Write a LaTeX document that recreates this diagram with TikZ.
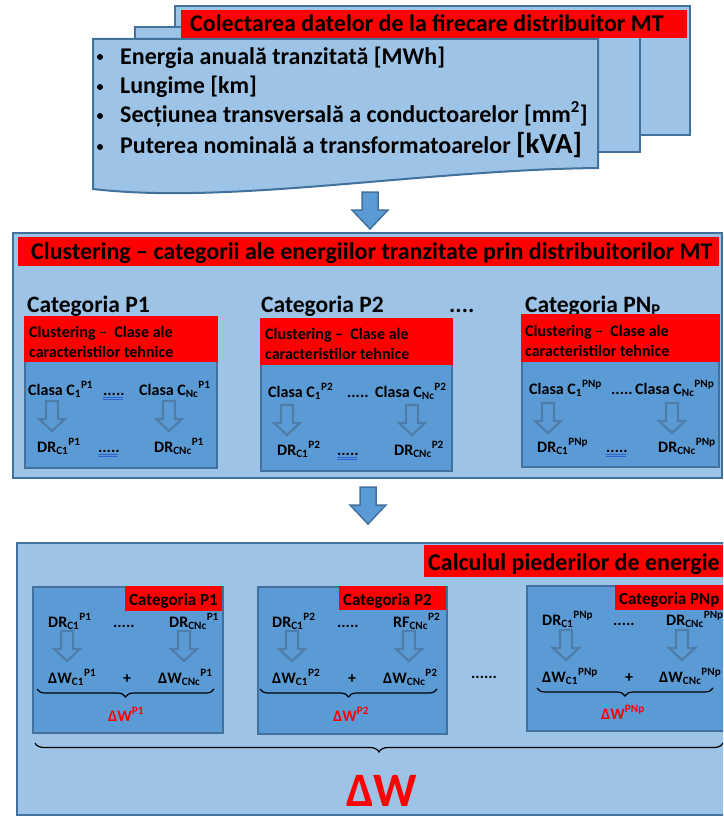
\documentclass[tikz,border=0pt]{standalone}
\usepackage{fontspec}
\setmainfont{Carlito}
\usetikzlibrary{decorations.pathreplacing}
\definecolor{lb}{HTML}{9DC3E6}
\definecolor{mb}{HTML}{5B9BD5}
\definecolor{db}{HTML}{41719C}
\definecolor{ha}{HTML}{4E7DAA}
\definecolor{rd}{HTML}{FF0000}
\definecolor{ul}{HTML}{2F5FD0}
\newcommand\fs[1]{\fontsize{#1}{#1}\selectfont}
\newcommand\ix[2]{\textsubscript{#1}\textsuperscript{#2}}
\begin{document}
\begin{tikzpicture}[x=1pt,y=-1pt,
  panel/.style={fill=lb,draw=db,line width=2pt},
  inbox/.style={fill=mb,draw=db,line width=2pt},
  redbar/.style={fill=rd},
  txt/.style={inner sep=0pt,anchor=base west,font=\bfseries\fs{16}},
  bigtxt/.style={txt,font=\bfseries\fs{24}},
  cattxt/.style={txt,font=\bfseries\fs{23.5}},
  redtxt/.style={txt,font=\bfseries\fs{16}},
  labtxt/.style={txt,font=\bfseries\fs{17}},
  sumtxt/.style={txt,font=\bfseries\fs{16},text=rd},
  dot/.style={circle,fill=black,inner sep=0pt,minimum size=6pt},
  dul/.style={draw=ul,line width=0.7pt},
  brc/.style={decorate,decoration={brace,amplitude=8pt,mirror},line width=1.2pt},
  harrow/.pic={\draw[ha,line width=2.2pt,line join=miter]
     (-6,0) -- (6,0) -- (6,18) -- (13,18) -- (0,30) -- (-13,18) -- (-6,18) -- cycle;},
  barrow/.pic={\draw[fill=mb,draw=db,line width=1.5pt,line join=miter]
     (-8,0) -- (8,0) -- (8,18) -- (18,18) -- (0,37) -- (-18,18) -- (-8,18) -- cycle;}
]
\useasboundingbox (0,0) rectangle (723,816);
\clip (0,0) rectangle (723,816);
\fill[white] (0,0) rectangle (723,816);

% ---------- top: stacked documents ----------
\draw[panel] (175,6) rectangle (690,135);
\draw[panel] (135,27) rectangle (640,152);
\fill[redbar] (181,10) rectangle (687,38);
\draw[panel] (93,39) -- (598,39) -- (598,168)
   .. controls (420,170) and (230,205) .. (93,189) -- cycle;
\node[bigtxt] (colt) at (190,32) {Colectarea datelor de la firecare distribuitor MT};
\node[dot] (d1) at (100,57) {};
\node[dot] (d2) at (100,87) {};
\node[dot] (d3) at (100,116) {};
\node[dot] (d4) at (100,147) {};
\node[bigtxt] (b1) at (120,64) {Energia anuală tranzitată [MWh]};
\node[bigtxt] (b2) at (120,93) {Lungime [km]};
\node[bigtxt] (b3) at (120,122) {Secțiunea transversală a conductoarelor [mm\textsuperscript{2}]};
\node[bigtxt] (b4) at (120,153) {Puterea nominală a transformatoarelor {\fs{29}[kVA]}};

\pic at (370,192) {barrow};

% ---------- section 2 ----------
\draw[panel] (13,233) rectangle (722,478);
\fill[redbar] (18,237) rectangle (719,266);
\node[bigtxt] (t2) at (31,259) {Clustering – categorii ale energiilor tranzitate prin distribuitorilor MT};
\node[cattxt] (c1) at (27,312) {Categoria P1};
\node[cattxt] (c2) at (261,312) {Categoria P2};
\node[cattxt] (cd) at (449,312) {....};
\node[cattxt] (c3) at (525,312) {Categoria PN\textsubscript{P}};

% box 1
\draw[inbox] (25,317) rectangle (217,468);
\fill[redbar] (24,316) rectangle (218,362);
\node[redtxt] (r1a) at (29,337) {Clustering –\ \ Clase ale};
\node[redtxt] (r1b) at (29,357) {caracteristilor tehnice};
\node[txt] (k1a) at (28,395) {Clasa C\ix{1}{P1}};
\node[txt] (k1d) at (103,395) {.....};
\node[txt] (k1b) at (139,395) {Clasa C\ix{Nc}{P1}};
\draw[dul] (k1d.south west) ++(0,2) -- ++(20,0);
\draw[dul] (k1d.south west) ++(0,4) -- ++(20,0);
\pic at (52,401) {harrow};
\pic at (169,401) {harrow};
\node[txt] (q1a) at (37,452) {DR\ix{C1}{P1}};
\node[txt] (q1d) at (98,452) {.....};
\node[txt] (q1b) at (154,452) {DR\ix{CNc}{P1}};
\draw[dul] (q1d.south west) ++(0,2) -- ++(20,0);
\draw[dul] (q1d.south west) ++(0,4) -- ++(20,0);

% box 2
\draw[inbox] (261,319) rectangle (452,471);
\fill[redbar] (260,318) rectangle (453,365);
\node[redtxt] (r2a) at (265,339) {Clustering –\ \ Clase ale};
\node[redtxt] (r2b) at (265,359) {caracteristilor tehnice};
\node[txt] (k2a) at (268,397) {Clasa C\ix{1}{P2}};
\node[txt] (k2d) at (347,397) {.....};
\node[txt] (k2b) at (375,397) {Clasa C\ix{Nc}{P2}};
\pic at (287,405) {harrow};
\pic at (412,405) {harrow};
\node[txt] (q2a) at (277,455) {DR\ix{C1}{P2}};
\node[txt] (q2d) at (337,455) {.....};
\node[txt] (q2b) at (394,455) {DR\ix{CNc}{P2}};
\draw[dul] (q2d.south west) ++(0,2) -- ++(20,0);
\draw[dul] (q2d.south west) ++(0,4) -- ++(20,0);

% box 3
\draw[inbox] (522,315) rectangle (719,467);
\fill[redbar] (521,314) rectangle (720,362);
\node[redtxt] (r3a) at (525,336) {Clustering –\ \ Clase ale};
\node[redtxt] (r3b) at (525,356) {caracteristilor tehnice};
\node[txt] (k3a) at (529,394) {Clasa C\ix{1}{PNp}};
\node[txt] (k3d) at (611,394) {.....};
\node[txt] (k3b) at (635,394) {Clasa C\ix{Nc}{PNp}};
\pic at (548,403) {harrow};
\pic at (672,403) {harrow};
\node[txt] (q3a) at (537,452) {DR\ix{C1}{PNp}};
\node[txt] (q3d) at (606,452) {.....};
\node[txt] (q3b) at (658,452) {DR\ix{CNc}{PNp}};
\draw[dul] (q3d.south west) ++(0,2) -- ++(20,0);
\draw[dul] (q3d.south west) ++(0,4) -- ++(20,0);

\pic at (368,487) {barrow};

% ---------- section 3 ----------
\draw[panel] (17,543) rectangle (740,815);
\fill[redbar] (424,545) rectangle (723,577);
\node[txt,font=\bfseries\fs{24}] (t3) at (428,570) {Calculul piederilor de energie};

% box A
\draw[inbox] (33,587) rectangle (223,733);
\fill[redbar] (125,586) rectangle (222,611);
\node[labtxt] (lA) at (129,605) {Categoria P1};
\node[txt] (uAa) at (48,627) {DR\ix{C1}{P1}};
\node[txt] (uAd) at (113,627) {.....};
\node[txt] (uAb) at (169,627) {DR\ix{CNc}{P1}};
\pic at (67,631) {harrow};
\pic at (184,631) {harrow};
\node[txt] (wAa) at (48,683) {ΔW\ix{C1}{P1}};
\node[txt] (wAp) at (123,683) {+};
\node[txt] (wAb) at (158,683) {ΔW\ix{CNc}{P1}};
\coordinate (bA1) at (37,689);
\coordinate (bA2) at (214,689);
\draw[brc] (bA1) -- (bA2);
\node[sumtxt] (sA) at (108,721) {ΔW\textsuperscript{P1}};

% box B
\draw[inbox] (258,587) rectangle (447,734);
\fill[redbar] (339,586) rectangle (446,610);
\node[labtxt] (lB) at (343,605) {Categoria P2};
\node[txt] (uBa) at (272,627) {DR\ix{C1}{P2}};
\node[txt] (uBd) at (337,627) {.....};
\node[txt] (uBb) at (393,627) {RF\ix{CNc}{P2}};
\pic at (292,631) {harrow};
\pic at (409,631) {harrow};
\node[txt] (wBa) at (272,683) {ΔW\ix{C1}{P2}};
\node[txt] (wBp) at (348,683) {+};
\node[txt] (wBb) at (383,683) {ΔW\ix{CNc}{P2}};
\coordinate (bB1) at (260,689);
\coordinate (bB2) at (437,689);
\draw[brc] (bB1) -- (bB2);
\node[sumtxt] (sB) at (333,721) {ΔW\textsuperscript{P2}};

\node[txt] (mid) at (471,678) {......};

% box C
\draw[inbox] (527,586) rectangle (740,731);
\fill[redbar] (615,585) rectangle (723,610);
\node[labtxt] (lC) at (619,604) {Categoria PNp};
\node[txt] (uCa) at (542,625) {DR\ix{C1}{PNp}};
\node[txt] (uCd) at (613,625) {.....};
\node[txt] (uCb) at (666,625) {DR\ix{CNc}{PNp}};
\pic at (566,630) {harrow};
\pic at (682,630) {harrow};
\node[txt] (wCa) at (542,682) {ΔW\ix{C1}{PNp}};
\node[txt] (wCp) at (625,682) {+};
\node[txt] (wCb) at (659,682) {ΔW\ix{CNc}{PNp}};
\coordinate (bC1) at (537,688);
\coordinate (bC2) at (713,688);
\draw[brc] (bC1) -- (bC2);
\node[sumtxt] (sC) at (601,719) {ΔW\textsuperscript{PNp}};

% total
\coordinate (bT1) at (35,743);
\coordinate (bT2) at (723,743);
\draw[brc,decoration={amplitude=9pt}] (bT1) -- (bT2);
\node[txt,font=\bfseries\fs{48},text=rd] (dw) at (346,806) {ΔW};
\end{tikzpicture}
\end{document}
